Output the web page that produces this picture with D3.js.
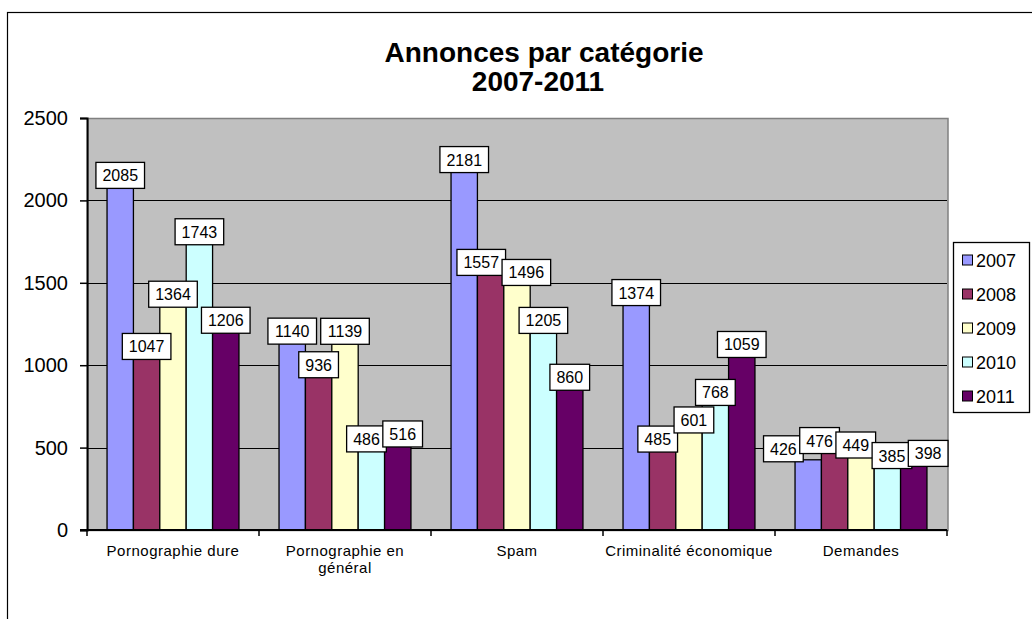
<!DOCTYPE html>
<html>
<head>
<meta charset="utf-8">
<script src="https://cdn.jsdelivr.net/npm/d3@7"></script>
<style>
  body { margin: 0; background: #fff; }
  text { font-family: "Liberation Sans", Arial, sans-serif; }
</style>
</head>
<body>
<div id="viz"></div>
<script>
(function() {
  var categories, years, colors, v2007, v2008, v2009, v2010, v2011, yTicks, series;
  var width, height, plot, svg, x, xs, y, g, cat, lab, leg, boxes, spread;

  categories = [["Pornographie dure"], ["Pornographie en", "général"], ["Spam"], ["Criminalité économique"], ["Demandes"]];
  years = ["2007", "2008", "2009", "2010", "2011"];
  colors = ["#9999ff", "#993366", "#ffffcc", "#ccffff", "#660066"];

  v2007 = [2085, 1140, 2181, 1374, 426];
  v2008 = [1047, 936, 1557, 485, 476];
  v2009 = [1364, 1139, 1496, 601, 449];
  v2010 = [1743, 486, 1205, 768, 385];
  v2011 = [1206, 516, 860, 1059, 398];

  yTicks = [0, 500, 1000, 1500, 2000, 2500];

  series = [v2007, v2008, v2009, v2010, v2011];

  width = 1032;
  height = 619;
  plot = { left: 87, right: 947, top: 118, bottom: 530 };

  svg = d3.select("#viz").append("svg").attr("width", width).attr("height", height);

  // outer chart frame (runs off the right and bottom)
  svg.append("rect").attr("x", 7.5).attr("y", 12.5).attr("width", 1100).attr("height", 700)
    .style("fill", "#fff").style("stroke", "#000").style("stroke-width", 1.2);

  // title
  svg.append("text").attr("x", 544).attr("y", 62).attr("text-anchor", "middle")
    .style("font-size", "28px").style("font-weight", "bold").text("Annonces par catégorie");
  svg.append("text").attr("x", 538).attr("y", 91).attr("text-anchor", "middle")
    .style("font-size", "28px").style("font-weight", "bold").text("2007-2011");

  x = d3.scaleBand().domain(d3.range(categories.length)).range([plot.left, plot.right])
    .paddingInner(0.233).paddingOuter(0.1165);
  xs = d3.scaleBand().domain(d3.range(years.length)).range([0, x.bandwidth()]);
  y = d3.scaleLinear().domain([0, 2500]).range([plot.bottom, plot.top]);

  // plot area
  svg.append("rect").attr("x", plot.left + 1).attr("y", y(2500) + 0.5)
    .attr("width", plot.right - plot.left).attr("height", plot.bottom - plot.top)
    .style("fill", "#c0c0c0").style("stroke", "#808080").style("stroke-width", 1.5);

  // gridlines
  svg.selectAll("line.grid").data(yTicks.filter(function(d) { return d > 0 && d < 2500; }))
    .enter().append("line").attr("class", "grid")
    .attr("x1", plot.left).attr("x2", plot.right)
    .attr("y1", function(d) { return Math.round(y(d)) + 0.5; })
    .attr("y2", function(d) { return Math.round(y(d)) + 0.5; })
    .style("stroke", "#000").style("stroke-width", 1);

  // bars
  g = svg.append("g");
  cat = g.selectAll("g.cat").data(categories).enter().append("g").attr("class", "cat")
    .attr("transform", function(d, i) { return "translate(" + x(i) + ",0)"; });
  cat.selectAll("rect").data(function(d, i) {
    return series.map(function(s, j) { return { s: j, v: s[i] }; });
  }).enter().append("rect")
    .attr("x", function(d) { return xs(d.s); })
    .attr("y", function(d) { return y(d.v); })
    .attr("width", xs.bandwidth())
    .attr("height", function(d) { return y(0) - y(d.v); })
    .style("fill", function(d) { return colors[d.s]; })
    .style("stroke", "#000").style("stroke-width", 1.3);

  // axes
  svg.append("g").attr("transform", "translate(" + plot.left + ",0)")
    .call(d3.axisLeft(y).tickValues(yTicks).tickFormat(d3.format("d")).tickSize(7).tickPadding(12))
    .call(function(a) {
      a.select(".domain").style("stroke-width", 2);
      a.selectAll("line").style("stroke-width", 1.5);
      a.selectAll("text").style("font-size", "20px").attr("fill", "#000");
    });

  svg.append("line").attr("x1", plot.left - 7).attr("x2", plot.right).attr("y1", plot.bottom).attr("y2", plot.bottom)
    .style("stroke", "#000").style("stroke-width", 2);
  svg.selectAll("line.xtick").data(d3.range(categories.length + 1)).enter().append("line").attr("class", "xtick")
    .attr("x1", function(d) { return plot.left + d * x.step(); })
    .attr("x2", function(d) { return plot.left + d * x.step(); })
    .attr("y1", plot.bottom).attr("y2", plot.bottom + 6)
    .style("stroke", "#000").style("stroke-width", 1.5);

  // category labels
  svg.selectAll("text.xlab").data(categories).enter().append("text").attr("class", "xlab")
    .attr("text-anchor", "middle")
    .attr("x", function(d, i) { return x(i) + x.bandwidth() / 2; })
    .attr("y", 556)
    .style("font-size", "15px").style("letter-spacing", "0.5px")
    .each(function(d) {
      var t = d3.select(this), i;
      for (i = 0; i < d.length; i++) {
        t.append("tspan").attr("x", t.attr("x")).attr("dy", i === 0 ? 0 : 17).text(d[i]);
      }
    });

  // data label boxes, pushed sideways when they collide (like excel does)
  spread = function(list) {
    var it, a, b, i, j, ov, push;
    for (it = 0; it < 60; it++) {
      for (i = 0; i < list.length; i++) {
        for (j = i + 1; j < list.length; j++) {
          a = list[i];
          b = list[j];
          if (Math.abs(a.cy - b.cy) >= 26) continue;
          ov = (a.w + b.w) / 2 - 3.5 - (b.cx - a.cx);
          if (ov > 0.01) {
            push = ov / 2;
            a.cx -= push;
            b.cx += push;
          }
        }
      }
      list.forEach(function(d) {
        if (d.cx + d.w / 2 > plot.right + 1) d.cx = plot.right + 1 - d.w / 2;
      });
    }
    return list;
  };

  boxes = categories.map(function(c, i) {
    return spread(series.map(function(s, j) {
      return {
        s: j,
        v: s[i],
        w: String(s[i]).length * 8.9 + 13,
        cx: x(i) + xs(j) + xs.bandwidth() / 2,
        cy: y(s[i]) - 11
      };
    }));
  });

  lab = svg.selectAll("g.lab").data(d3.merge(boxes)).enter().append("g").attr("class", "lab")
    .attr("transform", function(d) { return "translate(" + d.cx + "," + d.cy + ")"; });
  lab.append("rect")
    .attr("x", function(d) { return -d.w / 2; })
    .attr("y", -13)
    .attr("width", function(d) { return d.w; })
    .attr("height", 26)
    .style("fill", "#fff").style("stroke", "#000").style("stroke-width", 1.3);
  lab.append("text").attr("text-anchor", "middle").attr("y", 6)
    .style("font-size", "16px").text(function(d) { return d.v; });

  // legend
  leg = svg.append("g").attr("transform", "translate(953,242)");
  leg.append("rect").attr("x", 0.5).attr("y", 0.5).attr("width", 76).attr("height", 170)
    .style("fill", "#fff").style("stroke", "#000").style("stroke-width", 1.3);
  leg.selectAll("g.item").data(years).enter().append("g").attr("class", "item")
    .attr("transform", function(d, i) { return "translate(0," + (18 + i * 34) + ")"; })
    .each(function(d, i) {
      var it = d3.select(this);
      it.append("rect").attr("x", 9.5).attr("y", -5).attr("width", 10).attr("height", 10)
        .style("fill", colors[i]).style("stroke", "#000").style("stroke-width", 1);
      it.append("text").attr("x", 23).attr("y", 6.5).style("font-size", "18px").text(d);
    });

}).call(this);
</script>
</body>
</html>
